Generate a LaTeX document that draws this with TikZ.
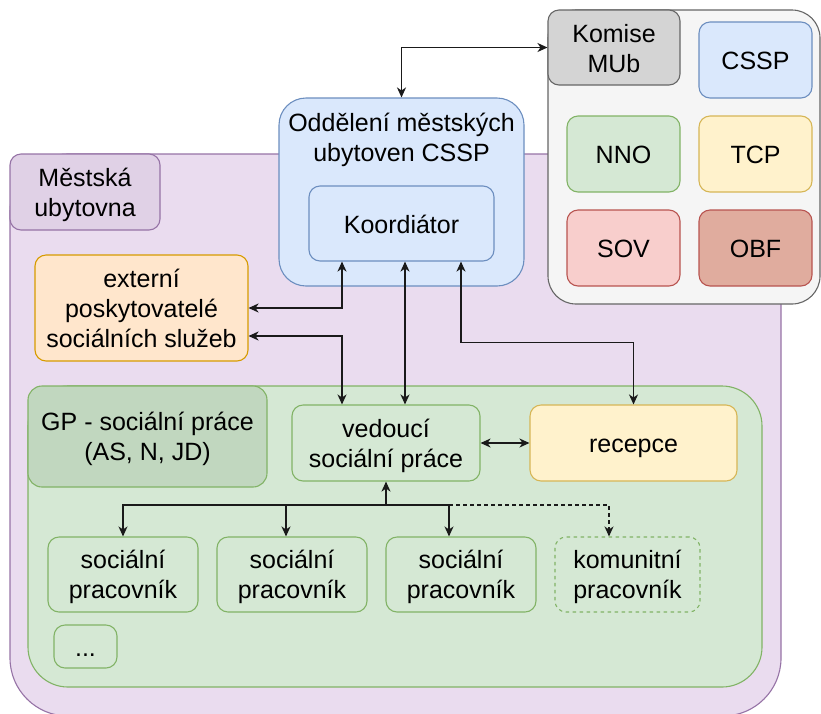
\documentclass[tikz,border=0pt]{standalone}
\usepackage{fontspec}
\setmainfont{Liberation Sans}
\usetikzlibrary{arrows.meta,calc}
\definecolor{purfill}{HTML}{EADCEF}
\definecolor{purlab}{HTML}{E0D1E6}
\definecolor{purline}{HTML}{9673A6}
\definecolor{bluefill}{HTML}{DAE8FC}
\definecolor{blueline}{HTML}{6C8EBF}
\definecolor{greyfill}{HTML}{F5F5F5}
\definecolor{greyline}{HTML}{666666}
\definecolor{komfill}{HTML}{D4D4D4}
\definecolor{grfill}{HTML}{D5E8D4}
\definecolor{grlab}{HTML}{C1D7BF}
\definecolor{grline}{HTML}{82B366}
\definecolor{yelfill}{HTML}{FFF2CC}
\definecolor{yelline}{HTML}{D6B656}
\definecolor{orfill}{HTML}{FFE6CC}
\definecolor{orline}{HTML}{D79B00}
\definecolor{redfill}{HTML}{F8CECC}
\definecolor{redline}{HTML}{B85450}
\definecolor{obffill}{HTML}{E0AC9E}
\definecolor{conn}{HTML}{1A1A1A}
\newcommand{\sst}{\rule[-5pt]{0pt}{29pt}}
\tikzset{
  box/.style={draw, line width=1.1pt, rounded corners=11pt, inner sep=0pt, align=center,
    font=\fontsize{25}{30}\selectfont, text=black},
  conn/.style={draw=conn, line width=1.3pt, {Stealth[length=10pt,width=9pt,inset=3pt]}-{Stealth[length=10pt,width=9pt,inset=3pt]}},
  conn1/.style={draw=conn, line width=1.3pt, -{Stealth[length=10pt,width=9pt,inset=3pt]}},
}
\begin{document}
\begin{tikzpicture}[x=1pt,y=-1pt]
\useasboundingbox (0,0) rectangle (821,713);
% purple container
\node[box, fill=purfill, draw=purline, rounded corners=58pt, minimum width=771pt, minimum height=562pt] (pur) at (395.5,435) {};
\node[box, fill=purlab, draw=purline, minimum width=150pt, minimum height=76pt] (mlab) at (85,192) {\sst Městská\\ubytovna\sst};
% grey container
\node[box, fill=greyfill, draw=greyline, rounded corners=28pt, minimum width=272pt, minimum height=294pt] (grey) at (684,157) {};
\node[box, fill=komfill, draw=greyline, minimum width=132pt, minimum height=75pt] (kom) at (614,47.5) {\sst Komise\\MUb\sst};
\node[box, fill=bluefill, draw=blueline, minimum width=113pt, minimum height=76pt] (cssp) at (755.5,60) {\sst CSSP};
\node[box, fill=grfill, draw=grline, minimum width=113pt, minimum height=76pt] (nno) at (623.5,154) {\sst NNO};
\node[box, fill=yelfill, draw=yelline, minimum width=113pt, minimum height=76pt] (tcp) at (755.5,154) {\sst TCP};
\node[box, fill=redfill, draw=redline, minimum width=113pt, minimum height=76pt] (sov) at (623.5,248) {\sst SOV};
\node[box, fill=obffill, draw=redline, minimum width=113pt, minimum height=76pt] (obf) at (755.5,248) {\sst OBF};
% blue department
\node[box, fill=bluefill, draw=blueline, rounded corners=27pt, minimum width=245pt, minimum height=188pt] (blue) at (401.5,192) {};
\node[box, draw=none, fill=none] (bluetxt) at (401.5,137) {\sst Oddělení městských\\ubytoven CSSP\sst};
\node[box, fill=bluefill, draw=blueline, minimum width=185pt, minimum height=75pt] (koord) at (401.5,223.5) {\sst Koordiátor};
% external
\node[box, fill=orfill, draw=orline, minimum width=213pt, minimum height=106pt] (ext) at (141.5,308) {\sst externí\\poskytovatelé\\sociálních služeb\sst};
% green container
\node[box, fill=grfill, draw=grline, rounded corners=40pt, minimum width=734pt, minimum height=301pt] (green) at (395,536.5) {};
\node[box, fill=grlab, draw=grline, rounded corners=14pt, minimum width=239pt, minimum height=101pt] (gp) at (147.5,436.5) {\sst GP - sociální práce\\(AS, N, JD)\sst};
\node[box, fill=grfill, draw=grline, minimum width=188pt, minimum height=76pt] (ved) at (386,443) {\sst vedoucí\\sociální práce\sst};
\node[box, fill=yelfill, draw=yelline, minimum width=207pt, minimum height=76pt] (rec) at (633.5,443) {\sst recepce};
\node[box, fill=grfill, draw=grline, minimum width=150pt, minimum height=75pt] (sp1) at (123,574.5) {\sst sociální\\pracovník\sst};
\node[box, fill=grfill, draw=grline, minimum width=150pt, minimum height=75pt] (sp2) at (292,574.5) {\sst sociální\\pracovník\sst};
\node[box, fill=grfill, draw=grline, minimum width=150pt, minimum height=75pt] (sp3) at (461,574.5) {\sst sociální\\pracovník\sst};
\node[box, fill=grfill, draw=grline, dash pattern=on 3.5pt off 3.5pt, minimum width=145pt, minimum height=75pt] (kp) at (627.5,574.5) {\sst komunitní\\pracovník\sst};
\node[box, fill=grfill, draw=grline, minimum width=63pt, minimum height=43pt] (dots) at (85.5,646.5) {\sst ...};
% connectors
\draw[conn] (blue.north) |- (kom.west);
\draw[conn] ([xshift=-59.5pt]koord.south) |- (ext.east);
\draw[conn] ([xshift=-44pt]ved.north) |- ([yshift=-28pt]ext.east);
\draw[conn] ([xshift=3.5pt]koord.south) -- ([xshift=19pt]ved.north);
\draw[conn] ([xshift=59.5pt]koord.south) -- ++(0,81) -| (rec.north);
\draw[conn] (ved.east) -- (rec.west);
\coordinate (j) at (386,505);
\coordinate (j3) at (449,505);
\draw[conn1] (j) -- (ved.south);
\draw[conn1] (j) -| (sp1.north);
\draw[conn1] (j) -| ([xshift=-6pt]sp2.north);
\draw[conn1] (j) -| ([xshift=-12pt]sp3.north);
\draw[conn1, dash pattern=on 4pt off 3pt] (j3) -| ([xshift=-18.5pt]kp.north);
\end{tikzpicture}
\end{document}
